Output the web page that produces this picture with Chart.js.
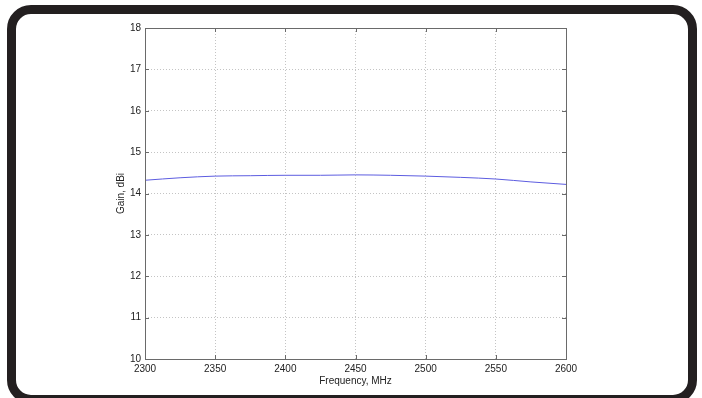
<!DOCTYPE html>
<html>
<head>
<meta charset="utf-8">
<script src="https://cdn.jsdelivr.net/npm/chart.js@4"></script>
<style>
  html, body { margin: 0; padding: 0; background: #fff; }
  body { width: 702px; height: 398px; position: relative; overflow: hidden; }
  #gainChart { position: absolute; left: 0; top: 0; }
  .frame {
    position: absolute; left: 7px; top: 5px; width: 690px; height: 399px;
    box-sizing: border-box; border: 9px solid #231f20; border-radius: 24px;
    pointer-events: none;
  }
</style>
</head>
<body>
<canvas id="gainChart" width="702" height="398"></canvas>
<div class="frame"></div>
<script>
// Gain vs frequency
const freqs = [2300, 2325, 2350, 2375, 2400, 2425, 2450, 2475, 2500, 2525, 2550, 2575, 2600];
const gains = [14.32, 14.38, 14.42, 14.43, 14.44, 14.44, 14.45, 14.44, 14.42, 14.39, 14.35, 14.28, 14.22];

const xTicks = [2300, 2350, 2400, 2450, 2500, 2550, 2600];
const yTicks = [10, 11, 12, 13, 14, 15, 16, 17, 18];

const font = { family: "'Liberation Sans', Arial, sans-serif", size: 10 };

// box around the plot + small inward ticks, like the matlab axes
const axesBox = {
  id: 'axesBox',
  afterDraw(chart) {
    const ctx = chart.ctx;
    const a = chart.chartArea;
    const xs = chart.scales.x, ys = chart.scales.y;
    ctx.save();
    ctx.strokeStyle = '#6a6a6a';
    ctx.lineWidth = 1;
    ctx.strokeRect(Math.round(a.left) + 0.5, Math.round(a.top) + 0.5,
      Math.round(a.right - a.left), Math.round(a.bottom - a.top));
    ctx.beginPath();
    xTicks.forEach(v => {
      const px = Math.round(xs.getPixelForValue(v)) + 0.5;
      ctx.moveTo(px, a.bottom); ctx.lineTo(px, a.bottom - 4);
      ctx.moveTo(px, a.top); ctx.lineTo(px, a.top + 4);
    });
    yTicks.forEach(v => {
      const py = Math.round(ys.getPixelForValue(v)) + 0.5;
      ctx.moveTo(a.left, py); ctx.lineTo(a.left + 4, py);
      ctx.moveTo(a.right, py); ctx.lineTo(a.right - 4, py);
    });
    ctx.stroke();
    ctx.restore();
  }
};

const config = {
  type: 'line',
  data: {
    datasets: [{
      label: 'Gain',
      data: freqs.map((f, i) => ({ x: f, y: gains[i] })),
      borderColor: '#5c5ce0',
      borderWidth: 1,
      pointRadius: 0,
      cubicInterpolationMode: 'monotone'
    }]
  },
  options: {
    responsive: false,
    animation: false,
    layout: { padding: { left: 115, top: 28, right: 136, bottom: 11 } },
    plugins: { legend: { display: false }, tooltip: { enabled: false } },
    scales: {
      x: {
        type: 'linear',
        min: 2300, max: 2600,
        afterBuildTicks: s => { s.ticks = xTicks.map(v => ({ value: v })); },
        afterFit: s => { s.height = 28; },
        ticks: { autoSkip: false, maxRotation: 0, padding: 4, color: '#222', font: font,
                 callback: v => String(v) },
        grid: { color: '#c4c4c4', drawTicks: false },
        border: { display: false, dash: [1, 2] },
        title: { display: true, text: 'Frequency, MHz', color: '#222', font: font, padding: 0 }
      },
      y: {
        min: 10, max: 18,
        afterBuildTicks: s => { s.ticks = yTicks.map(v => ({ value: v })); },
        afterFit: s => { s.width = 30; },
        ticks: { padding: 4, color: '#222', font: font, callback: v => String(v) },
        grid: { color: '#c4c4c4', drawTicks: false },
        border: { display: false, dash: [1, 2] },
        title: { display: true, text: 'Gain, dBi', color: '#222', font: font, padding: 0 }
      }
    }
  },
  plugins: [axesBox]
};

new Chart(document.getElementById('gainChart').getContext('2d'), config);
</script>
</body>
</html>
